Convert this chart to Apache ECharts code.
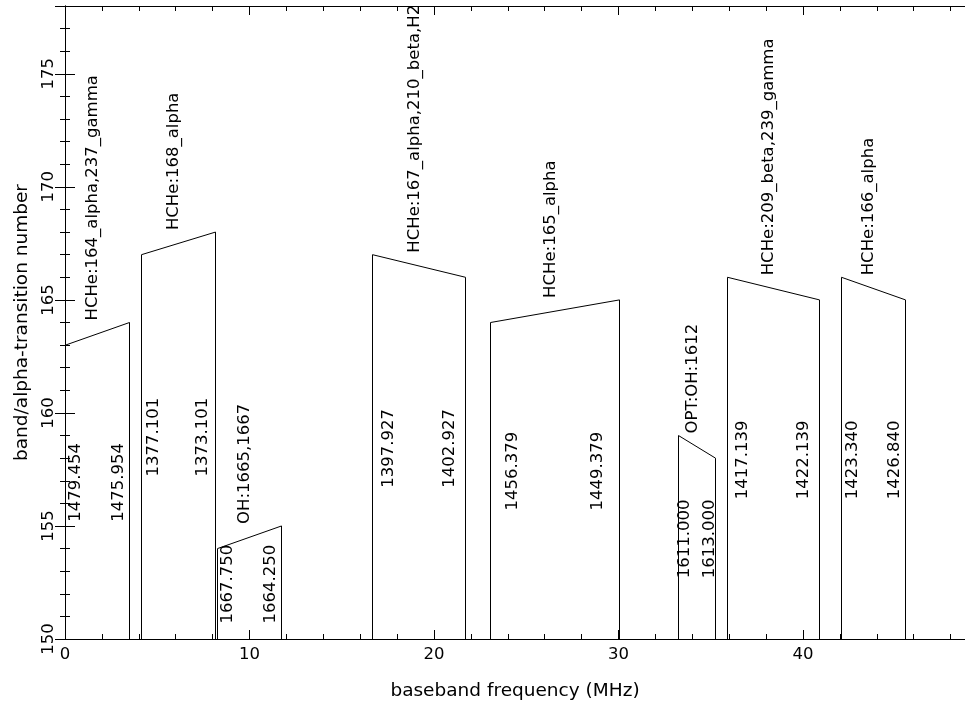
<!DOCTYPE html>
<html>
<head>
<meta charset="utf-8">
<script src="https://cdn.jsdelivr.net/npm/echarts@6/dist/echarts.min.js"></script>
<style>
  html, body { margin: 0; padding: 0; background: #fff; }
  #chart { width: 965px; height: 711px; }
</style>
</head>
<body>
<div id="chart"></div>
<script>
// baseband windows (MHz) and transition numbers at each edge
const bandStart = [0, 4.15, 8.25, 16.68, 23.08, 33.27, 35.9, 42.08];
const bandEnd = [3.5, 8.15, 11.75, 21.68, 30.08, 35.27, 40.9, 45.58];
const topStart = [163, 167, 154, 167, 164, 159, 166, 166];
const topEnd = [164, 168, 155, 166, 165, 158, 165, 165];
const freqStart = ['1479.454', '1377.101', '1667.750', '1397.927', '1456.379', '1611.000', '1417.139', '1423.340'];
const freqEnd = ['1475.954', '1373.101', '1664.250', '1402.927', '1449.379', '1613.000', '1422.139', '1426.840'];
const species = [
  'HCHe:164_alpha,237_gamma', 'HCHe:168_alpha', 'OH:1665,1667', 'HCHe:167_alpha,210_beta,H2',
  'HCHe:165_alpha', 'OPT:OH:1612', 'HCHe:209_beta,239_gamma', 'HCHe:166_alpha'
];
const yMin = 150, yMax = 178;
const xMin = 0, xMax = 48.78;

const FONT = 'DejaVu Sans';
let myChart = echarts.init(document.getElementById('chart'));

function snap(v) { return Math.round(v - 0.5) + 0.5; }

function renderBand(params, api) {
  let i = params.dataIndex;
  let x0 = api.value(0), x1 = api.value(1), t0 = api.value(2), t1 = api.value(3);
  let b0 = api.coord([x0, yMin]), a0 = api.coord([x0, t0]);
  let a1 = api.coord([x1, t1]), b1 = api.coord([x1, yMin]);
  let lx = snap(b0[0]), rx = snap(b1[0]);
  let w = x1 - x0;
  let mid = api.coord([x0, (yMin + (t0 + t1) / 2) / 2])[1] - 4;
  let leftLab = api.coord([x0 + 0.17 * w, yMin])[0];
  let rightLab = api.coord([x1 - 0.17 * w, yMin])[0];
  let topY = api.coord([x0, Math.max(t0, t1)])[1] - 2;
  let cx = api.coord([(x0 + x1) / 2, yMin])[0] - 4.5;
  let txt = (s, x, y, align) => ({
    type: 'text', x: x, y: y, rotation: Math.PI / 2,
    style: { text: s, fill: '#000', font: '16.5px "' + FONT + '"', textAlign: align, textVerticalAlign: 'middle' }
  });
  return {
    type: 'group',
    children: [
      { type: 'polyline', shape: { points: [[lx, b0[1]], [lx, a0[1]], [rx, a1[1]], [rx, b1[1]]] },
        style: { stroke: '#000', fill: null, lineWidth: 1 } },
      txt(freqStart[i], leftLab, mid, 'center'),
      txt(freqEnd[i], rightLab, mid, 'center'),
      txt(species[i], cx, topY, 'left')
    ]
  };
}

function xAx(pos, interval, len, labels, line) {
  return {
    type: 'value', position: pos, min: xMin, max: xMax, interval: interval,
    splitLine: { show: false },
    axisLine: { show: line, lineStyle: { color: '#000', width: 1 } },
    axisTick: { inside: true, length: len, lineStyle: { color: '#000' } },
    axisLabel: { show: labels, color: '#000', fontFamily: FONT, fontSize: 16.5, margin: 7, showMaxLabel: false }
  };
}
function yAx(pos, interval, len, labels, line, offset) {
  return {
    type: 'value', position: pos, min: yMin, max: yMax, interval: interval, offset: offset || 0,
    splitLine: { show: false },
    axisLine: { show: line, lineStyle: { color: '#000', width: 1 } },
    axisTick: { inside: true, length: len, lineStyle: { color: '#000' } },
    axisLabel: { show: labels, rotate: 90, color: '#000', fontFamily: FONT, fontSize: 16.5, margin: 8, showMaxLabel: false }
  };
}

let xMain = xAx('bottom', 10, 9, true, true);
xMain.name = 'baseband frequency (MHz)';
xMain.nameLocation = 'middle';
xMain.nameGap = 43;
xMain.nameTextStyle = { color: '#000', fontFamily: FONT, fontSize: 18.5 };
let yMain = yAx('left', 5, 10, true, true);
yMain.name = 'band/alpha-transition number';
yMain.nameLocation = 'middle';
yMain.nameGap = 33;
yMain.nameTextStyle = { color: '#000', fontFamily: FONT, fontSize: 18.5 };

let option = {
  animation: false,
  backgroundColor: '#fff',
  grid: { left: 65, right: 0, top: 6, bottom: 72 },
  xAxis: [
    xMain,
    xAx('bottom', 2, 5, false, false),
    xAx('top', 10, 9, false, true),
    xAx('top', 2, 5, false, false)
  ],
  yAxis: [
    yMain,
    yAx('left', 1, 5, false, false),
    // right frame sits just past the edge of the picture
    yAx('right', 5, 10, false, true, 7),
    yAx('right', 1, 5, false, false, 7)
  ],
  series: [
    {
      type: 'custom',
      xAxisIndex: 0,
      yAxisIndex: 0,
      renderItem: renderBand,
      encode: { x: [0, 1], y: [2, 3] },
      data: bandStart.map((x0, i) => [x0, bandEnd[i], topStart[i], topEnd[i]])
    }
  ]
};

myChart.setOption(option);
</script>
</body>
</html>
